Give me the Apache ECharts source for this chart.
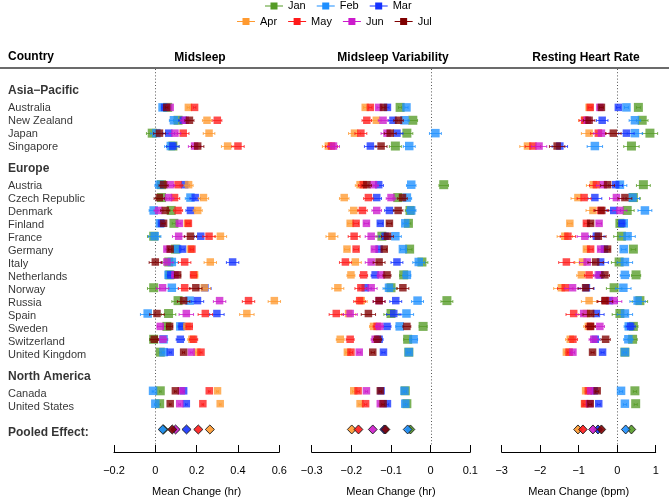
<!DOCTYPE html>
<html><head><meta charset="utf-8">
<script src="https://cdn.jsdelivr.net/npm/echarts@6/dist/echarts.min.js"></script>
<style>html,body{margin:0;padding:0;background:#fff}#c{width:669px;height:502px}</style>
</head><body><div id="c"></div>
<script>
// ---------------- DATA ----------------
const months = ['Jan', 'Feb', 'Mar', 'Apr', 'May', 'Jun', 'Jul'];
const regionNames = ['Asia\u2212Pacific', 'Europe', 'North America'];
const asiaPacific = ['Australia', 'New Zealand', 'Japan', 'Singapore'];
const europe = ['Austria', 'Czech Republic', 'Denmark', 'Finland', 'France', 'Germany', 'Italy',
  'Netherlands', 'Norway', 'Russia', 'Spain', 'Sweden', 'Switzerland', 'United Kingdom'];
const northAmerica = ['Canada', 'United States'];
const pooledLabel = 'Pooled Effect:';
const panelTitles = ['Midsleep', 'Midsleep Variability', 'Resting Heart Rate'];
const axisTitles = ['Mean Change (hr)', 'Mean Change (hr)', 'Mean Change (bpm)'];
const midsleepTicks = [-0.2, 0, 0.2, 0.4, 0.6];
const variabilityTicks = [-0.3, -0.2, -0.1, 0, 0.1];
const heartRateTicks = [-3, -2, -1, 0, 1];

// country order: Aus, NZ, Jpn, Sgp, Aut, Cze, Den, Fin, Fra, Ger, Ita, Ned, Nor, Rus, Spa, Swe, Sui, UK, Can, USA
const midsleepJan = [0.06, 0.11, -0.015, 0.085, 0.03, 0.03, 0.077, 0.09, -0.008, 0.097, 0.065, 0.07, -0.008, 0.11, 0.064, 0.056, -0.008, 0.024, 0.024, 0.021];
const midsleepFeb = [0.035, 0.09, 0.005, 0.075, 0.02, 0.17, -0.008, 0.022, -0.003, 0.105, 0.08, 0.064, 0.08, 0.166, -0.037, 0.121, 0.04, 0.04, -0.011, 0.0];
const midsleepMar = [0.045, 0.135, 0.065, 0.085, 0.142, 0.193, 0.17, 0.03, 0.22, 0.132, 0.374, 0.075, 0.24, 0.204, 0.298, 0.129, 0.121, 0.072, 0.137, 0.15];
const midsleepApr = [0.16, 0.25, 0.26, 0.35, 0.161, 0.233, 0.205, 0.155, 0.315, 0.17, 0.266, 0.19, 0.237, 0.576, 0.443, 0.153, 0.177, 0.201, 0.301, 0.314];
const midsleepMay = [0.19, 0.30, 0.135, 0.40, 0.11, 0.093, 0.11, 0.16, 0.26, 0.177, 0.142, 0.185, 0.142, 0.451, 0.242, 0.164, 0.185, 0.221, 0.261, 0.23];
const midsleepJun = [0.072, 0.145, 0.095, 0.19, 0.072, 0.064, 0.016, 0.116, 0.113, 0.056, 0.056, 0.095, 0.035, 0.311, 0.15, 0.024, 0.037, 0.174, 0.126, 0.118];
const midsleepJul = [0.055, 0.165, 0.02, 0.205, 0.04, 0.019, 0.048, 0.04, 0.17, 0.072, 0.0, 0.108, 0.196, 0.137, 0.008, 0.069, -0.005, 0.137, 0.097, 0.072];
const midsleepPooled = [0.04, 0.036, 0.151, 0.264, 0.208, 0.098, 0.082];
const midsleepCI = [0.006, 0.022, 0.028, 0.03, 0.022, 0.025, 0.022, 0.008, 0.03, 0.008, 0.03, 0.015, 0.03, 0.03, 0.035, 0.015, 0.02, 0.005, 0.004, 0.004];

const variabilityJan = [-0.077, -0.045, -0.06, -0.089, 0.033, -0.083, -0.052, -0.056, -0.123, -0.053, -0.022, -0.068, -0.1, 0.041, -0.1, -0.019, -0.058, -0.055, -0.064, -0.06];
const variabilityFeb = [-0.061, -0.066, 0.012, -0.054, -0.049, -0.06, -0.049, -0.064, -0.089, -0.07, -0.03, -0.06, -0.105, -0.033, -0.061, -0.078, -0.043, -0.055, -0.066, -0.064];
const variabilityMar = [-0.109, -0.095, -0.085, -0.152, -0.131, -0.136, -0.104, -0.127, -0.115, -0.13, -0.085, -0.14, -0.165, -0.088, -0.093, -0.11, -0.13, -0.119, -0.125, -0.109];
const variabilityApr = [-0.165, -0.137, -0.192, -0.258, -0.178, -0.218, -0.194, -0.203, -0.249, -0.211, -0.19, -0.201, -0.234, -0.175, -0.207, -0.144, -0.228, -0.21, -0.194, -0.178];
const variabilityMay = [-0.152, -0.161, -0.176, -0.25, -0.17, -0.157, -0.172, -0.188, -0.193, -0.188, -0.215, -0.169, -0.176, -0.179, -0.238, -0.135, -0.203, -0.201, -0.183, -0.164];
const variabilityJun = [-0.131, -0.12, -0.11, -0.245, -0.144, -0.1, -0.136, -0.162, -0.15, -0.142, -0.15, -0.125, -0.15, -0.13, -0.203, -0.129, -0.14, -0.18, -0.162, -0.127];
const variabilityJul = [-0.119, -0.081, -0.102, -0.125, -0.161, -0.071, -0.082, -0.104, -0.109, -0.117, -0.13, -0.11, -0.07, -0.13, -0.157, -0.06, -0.134, -0.146, -0.127, -0.12];
const variabilityPooled = [-0.051, -0.058, -0.117, -0.199, -0.182, -0.146, -0.114];
const variabilityCI = [0.004, 0.012, 0.015, 0.015, 0.012, 0.012, 0.012, 0.006, 0.015, 0.006, 0.015, 0.01, 0.015, 0.015, 0.018, 0.01, 0.01, 0.004, 0.003, 0.003];

const heartRateJan = [0.55, 0.65, 0.85, 0.37, 0.68, 0.42, 0.26, 0.07, 0.11, 0.42, 0.05, 0.49, -0.08, 0.59, 0.07, 0.42, 0.4, 0.2, 0.46, 0.48];
const heartRateFeb = [0.24, 0.46, 0.46, -0.58, 0.07, 0.4, 0.72, 0.17, 0.27, 0.17, 0.2, 0.2, 0.16, 0.53, 0.2, 0.3, 0.29, 0.2, 0.1, 0.2];
const heartRateMar = [0.03, -0.39, 0.24, -1.49, -0.04, -0.58, -0.09, 0.12, -0.54, -0.33, -0.43, -0.45, -0.8, -0.2, -0.54, 0.35, -0.57, -0.38, -0.6, -0.48];
const heartRateApr = [-0.73, -0.85, -0.73, -2.33, -0.62, -1.02, -0.63, -1.23, -1.36, -0.8, -0.9, -0.93, -1.45, -0.73, -0.8, -0.75, -1.22, -1.32, -0.82, -0.85];
const heartRateMay = [-0.7, -0.84, -0.49, -2.19, -0.54, -0.86, -0.43, -0.8, -1.28, -0.69, -1.32, -0.73, -1.35, -0.3, -1.13, -0.7, -1.15, -1.25, -0.75, -0.84];
const heartRateJun = [-0.45, -0.78, -0.41, -2.03, -0.36, -0.02, 0.07, -0.47, -0.84, -0.43, -0.78, -0.49, -1.16, -0.08, -0.87, -0.45, -0.61, -1.15, -0.69, -0.72];
const heartRateJul = [-0.41, -0.73, -0.1, -1.56, -0.25, 0.2, -0.4, -0.69, -0.49, -0.25, -0.56, -0.32, -0.82, -0.32, -0.69, -0.69, -0.3, -0.64, -0.52, -0.7];
const heartRatePooled = [0.37, 0.22, -0.5, -1.02, -0.89, -0.63, -0.41];
const heartRateCI = [0.05, 0.15, 0.2, 0.2, 0.18, 0.18, 0.18, 0.06, 0.2, 0.06, 0.2, 0.12, 0.2, 0.2, 0.2, 0.12, 0.12, 0.04, 0.04, 0.04];

const pooledHalfWidth = [0.022, 0.011, 0.11];

// ---------------- LAYOUT / STYLE ----------------
const FONT = '"Liberation Sans", Arial, Helvetica, sans-serif';
const monthColors = ['#559B26', '#1E8FFF', '#1432FF', '#FF9A30', '#FF1A1A', '#CC1ACC', '#7F0000'];
const squareSize = [9, 8.5, 7.5, 7.5, 7.5, 7.5, 7.5];
const Y_MIN = -2.98, Y_MAX = 26.75;
const GRID_TOP = 69, GRID_BOTTOM = 46.5;
const W = 669;
const panelBox = [[114, 279.3], [311.7, 470.3], [501.7, 655.7]];

const groups = [asiaPacific, europe, northAmerica];
const countries = [].concat(asiaPacific, europe, northAmerica);
const countryRow = [];
const headerRows = [];
let k = 0;
groups.forEach((g, gi) => {
  headerRows.push([0, k - 1.28, regionNames[gi]]);
  g.forEach(() => { countryRow.push(k); k++; });
  k += 2;
});
const pooledRow = countryRow[countryRow.length - 1] + 2;
headerRows.push([0, pooledRow, pooledLabel]);

const panels = [
  { ticks: midsleepTicks, values: [midsleepJan, midsleepFeb, midsleepMar, midsleepApr, midsleepMay, midsleepJun, midsleepJul], pooled: midsleepPooled, ci: midsleepCI },
  { ticks: variabilityTicks, values: [variabilityJan, variabilityFeb, variabilityMar, variabilityApr, variabilityMay, variabilityJun, variabilityJul], pooled: variabilityPooled, ci: variabilityCI },
  { ticks: heartRateTicks, values: [heartRateJan, heartRateFeb, heartRateMar, heartRateApr, heartRateMay, heartRateJun, heartRateJul], pooled: heartRatePooled, ci: heartRateCI }
];

function fmt(v) {
  const a = parseFloat(Math.abs(v).toFixed(3));
  return (v < -1e-9 ? '\u2212' : '') + a;
}

const grids = [], xAxes = [], yAxes = [], series = [];
panels.forEach((p, pi) => {
  grids.push({ left: panelBox[pi][0], width: panelBox[pi][1] - panelBox[pi][0], top: GRID_TOP, bottom: GRID_BOTTOM, containLabel: false });
  xAxes.push({
    type: 'value', gridIndex: pi, min: p.ticks[0], max: p.ticks[p.ticks.length - 1], interval: p.ticks[1] - p.ticks[0],
    axisLine: { show: true, onZero: false, lineStyle: { color: '#000', width: 1 } },
    axisTick: { show: true, inside: true, length: 7, lineStyle: { color: '#000', width: 1 } },
    axisLabel: { color: '#000', fontSize: 11, fontFamily: FONT, margin: 13, formatter: fmt },
    splitLine: { show: false },
    name: axisTitles[pi], nameLocation: 'middle', nameGap: 34,
    nameTextStyle: { color: '#000', fontSize: 11, fontFamily: FONT }
  });
  yAxes.push({ type: 'value', gridIndex: pi, min: Y_MIN, max: Y_MAX, inverse: true, show: false });
  // zero reference line
  series.push({
    type: 'custom', name: 'zero' + pi, xAxisIndex: pi, yAxisIndex: pi, silent: true, z: 1,
    data: [[0, Y_MIN, 26.18]],
    renderItem: function (params, api) {
      const a = api.coord([api.value(0), api.value(1)]);
      const b = api.coord([api.value(0), api.value(2)]);
      return { type: 'line', shape: { x1: Math.round(a[0]) + 0.5, y1: a[1], x2: Math.round(b[0]) + 0.5, y2: b[1] },
        style: { stroke: '#555', lineWidth: 1, lineDash: [1, 2.2] } };
    }
  });
  months.forEach((m, mi) => {
    const data = p.values[mi].map((v, ci) => [v, countryRow[ci], v - p.ci[ci], v + p.ci[ci], 0]);
    data.push([p.pooled[mi], pooledRow, p.pooled[mi] - pooledHalfWidth[pi], p.pooled[mi] + pooledHalfWidth[pi], 1]);
    const col = monthColors[mi];
    const sz = squareSize[mi];
    series.push({
      type: 'custom', name: m, xAxisIndex: pi, yAxisIndex: pi, z: 2 + mi,
      itemStyle: { color: col },
      data: data,
      renderItem: function (params, api) {
        const x = api.value(0), y = api.value(1), lo = api.value(2), hi = api.value(3), pooled = api.value(4);
        const c = api.coord([x, y]);
        const l = api.coord([lo, y]);
        const h = api.coord([hi, y]);
        if (pooled) {
          return { type: 'polygon', shape: { points: [[l[0], c[1]], [c[0], c[1] - 4.5], [h[0], c[1]], [c[0], c[1] + 4.5]] },
            style: { fill: col, stroke: '#1a1a1a', lineWidth: 1, opacity: 0.9 } };
        }
        const yy = Math.round(c[1]) + 0.5;
        return { type: 'group', children: [
          { type: 'line', shape: { x1: l[0], y1: yy, x2: h[0], y2: yy }, style: { stroke: col, lineWidth: 1, opacity: 0.75 } },
          { type: 'line', shape: { x1: l[0], y1: yy - 1.5, x2: l[0], y2: yy + 1.5 }, style: { stroke: col, lineWidth: 1, opacity: 0.75 } },
          { type: 'line', shape: { x1: h[0], y1: yy - 1.5, x2: h[0], y2: yy + 1.5 }, style: { stroke: col, lineWidth: 1, opacity: 0.75 } },
          { type: 'rect', shape: { x: c[0] - sz / 2, y: c[1] - sz / 2, width: sz, height: sz }, style: { fill: col, opacity: 0.78 } }
        ] };
      }
    });
  });
});

// label column
grids.push({ left: 0, width: 110, top: GRID_TOP, bottom: GRID_BOTTOM });
xAxes.push({ type: 'value', gridIndex: 3, min: 0, max: 1, show: false });
yAxes.push({ type: 'value', gridIndex: 3, min: Y_MIN, max: Y_MAX, inverse: true, show: false });
series.push({
  type: 'scatter', name: 'countries', xAxisIndex: 3, yAxisIndex: 3, symbolSize: 0, silent: true,
  data: countries.map((c, i) => [0, countryRow[i], c]),
  label: { show: true, position: 'right', distance: 8, formatter: p => p.data[2], color: '#000', fontSize: 11, fontFamily: FONT }
});
series.push({
  type: 'scatter', name: 'headers', xAxisIndex: 3, yAxisIndex: 3, symbolSize: 0, silent: true,
  data: headerRows,
  label: { show: true, position: 'right', distance: 8, formatter: p => p.data[2], color: '#000', fontSize: 12, fontWeight: 'bold', fontFamily: FONT }
});

const legendIcon = 'path://M0,3H5.5V0H12.5V3H18V4H12.5V7H5.5V4H0Z';
function legendData(list) { return list.map(m => ({ name: m, itemStyle: { color: monthColors[months.indexOf(m)] } })); }
const legendCommon = { orient: 'horizontal', icon: legendIcon, itemWidth: 18, itemHeight: 7, itemGap: 11, padding: 0,
  textStyle: { color: '#000', fontSize: 11, fontFamily: FONT }, selectedMode: false };

const option = {
  backgroundColor: '#fff',
  animation: false,
  legend: [
    Object.assign({ data: legendData(months.slice(0, 3)), left: 265, top: 0.5 }, legendCommon),
    Object.assign({ data: legendData(months.slice(3)), left: 237, top: 16 }, legendCommon)
  ],
  grid: grids, xAxis: xAxes, yAxis: yAxes, series: series,
  graphic: [
    { type: 'text', left: 8, top: 51, style: { text: 'Country', font: 'bold 12px ' + FONT, fill: '#000' } },
    { type: 'text', x: 200, y: 58, style: { text: panelTitles[0], font: 'bold 12px ' + FONT, fill: '#000', align: 'center', verticalAlign: 'middle' } },
    { type: 'text', x: 393, y: 58, style: { text: panelTitles[1], font: 'bold 12px ' + FONT, fill: '#000', align: 'center', verticalAlign: 'middle' } },
    { type: 'text', x: 586, y: 58, style: { text: panelTitles[2], font: 'bold 12px ' + FONT, fill: '#000', align: 'center', verticalAlign: 'middle' } },
    { type: 'line', shape: { x1: 0, y1: 68, x2: W, y2: 68 }, style: { stroke: '#6b6b6b', lineWidth: 2 } }
  ]
};
const chart = echarts.init(document.getElementById('c'));
chart.setOption(option);
</script></body></html>
